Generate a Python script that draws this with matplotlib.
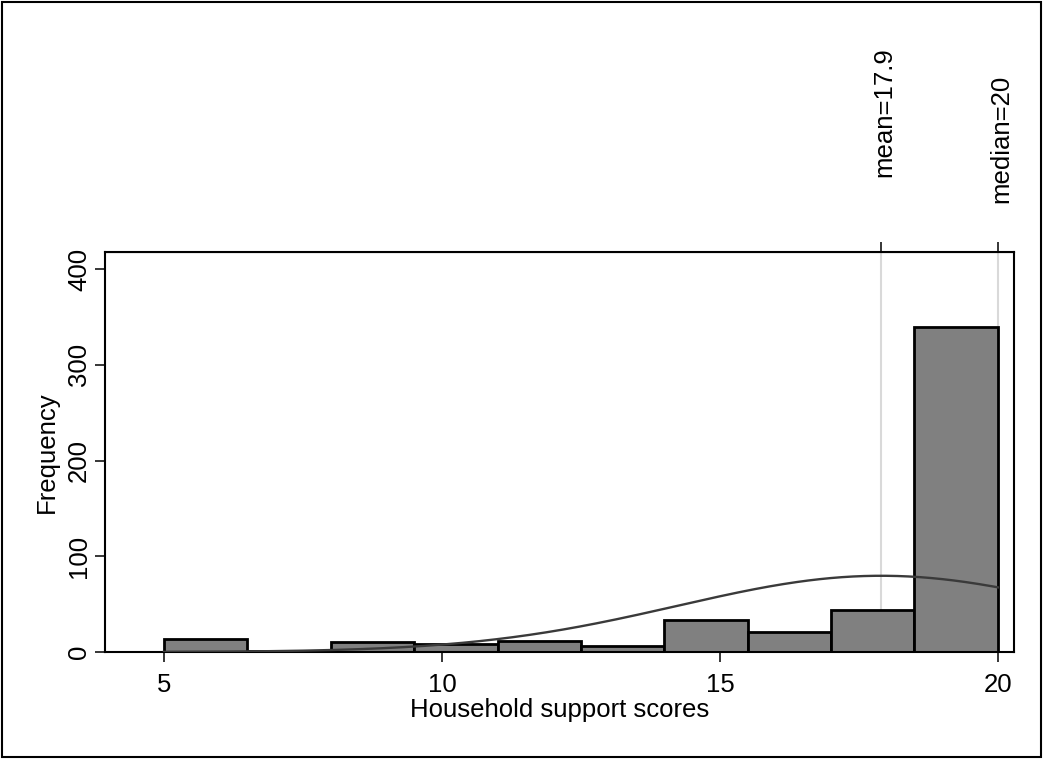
import numpy as np
import matplotlib
matplotlib.use("Agg")
from matplotlib import pyplot as plt
from matplotlib.patches import Rectangle
from matplotlib.transforms import blended_transform_factory, offset_copy

plt.rcParams["font.family"] = ["Liberation Sans", "DejaVu Sans"]

# histogram of household support scores (bin width 1.5 from 5 to 20)
bin_edges = [5.0, 6.5, 8.0, 9.5, 11.0, 12.5, 14.0, 15.5, 17.0, 18.5, 20.0]
counts = [14, 1, 10, 8, 11, 6, 33, 21, 44, 339]
mean_score = 17.9
median_score = 20
sd_score = 3.66
x_ticks = [5, 10, 15, 20]
y_ticks = [0, 100, 200, 300, 400]

FS = 18.5

fig = plt.figure(figsize=(10.43, 7.59), dpi=100)
ax = fig.add_axes([105 / 1043, 107 / 759, 909 / 1043, 400 / 759])

# reference lines for mean and median
for v in (mean_score, median_score):
    ax.axvline(v, color="#d9d9d9", lw=1.5, zorder=0)

widths = np.diff(bin_edges)
ax.bar(bin_edges[:-1], counts, width=widths, align="edge",
       color="#808080", edgecolor="black", linewidth=2.0, zorder=2)

# normal density scaled to counts
n = sum(counts)
xs = np.linspace(bin_edges[0], bin_edges[-1], 300)
ys = n * widths[0] / (sd_score * np.sqrt(2 * np.pi)) * np.exp(-0.5 * ((xs - mean_score) / sd_score) ** 2)
ax.plot(xs, ys, color="#3a3a3a", lw=1.7, zorder=3)

ax.set_xlim(3.94, 20.29)
ax.set_ylim(0, 417.8)
ax.set_xticks(x_ticks)
ax.set_yticks(y_ticks)
ax.tick_params(axis="both", direction="out", length=7, width=1.1, labelsize=FS, colors="black")
ax.tick_params(axis="x", pad=8)
ax.tick_params(axis="y", pad=3)
plt.setp(ax.get_yticklabels(), rotation=90, va="center")
for s in ax.spines.values():
    s.set_linewidth(1.5)
ax.set_xlabel("Household support scores", fontsize=FS, labelpad=1)
ax.set_ylabel("Frequency", fontsize=FS, labelpad=6)

top = ax.secondary_xaxis("top")
top.set_xticks([mean_score, median_score])
top.set_xticklabels([])
top.tick_params(direction="out", length=7, width=1.1)

trans = blended_transform_factory(ax.transData, fig.transFigure)
trans = offset_copy(trans, fig=fig, x=3, y=0, units="dots")
ax.text(mean_score, 1 - 177 / 759, f"mean={mean_score}", rotation=90, ha="center", va="bottom",
        fontsize=FS, transform=trans)
ax.text(median_score, 1 - 203 / 759, f"median={median_score}", rotation=90, ha="center", va="bottom",
        fontsize=FS, transform=trans)

fig.patches.append(Rectangle((2 / 1043, 2 / 759), 1039 / 1043, 755 / 759, fill=False,
                             edgecolor="black", lw=1.5, transform=fig.transFigure))

fig.savefig("out.png", dpi=100)
